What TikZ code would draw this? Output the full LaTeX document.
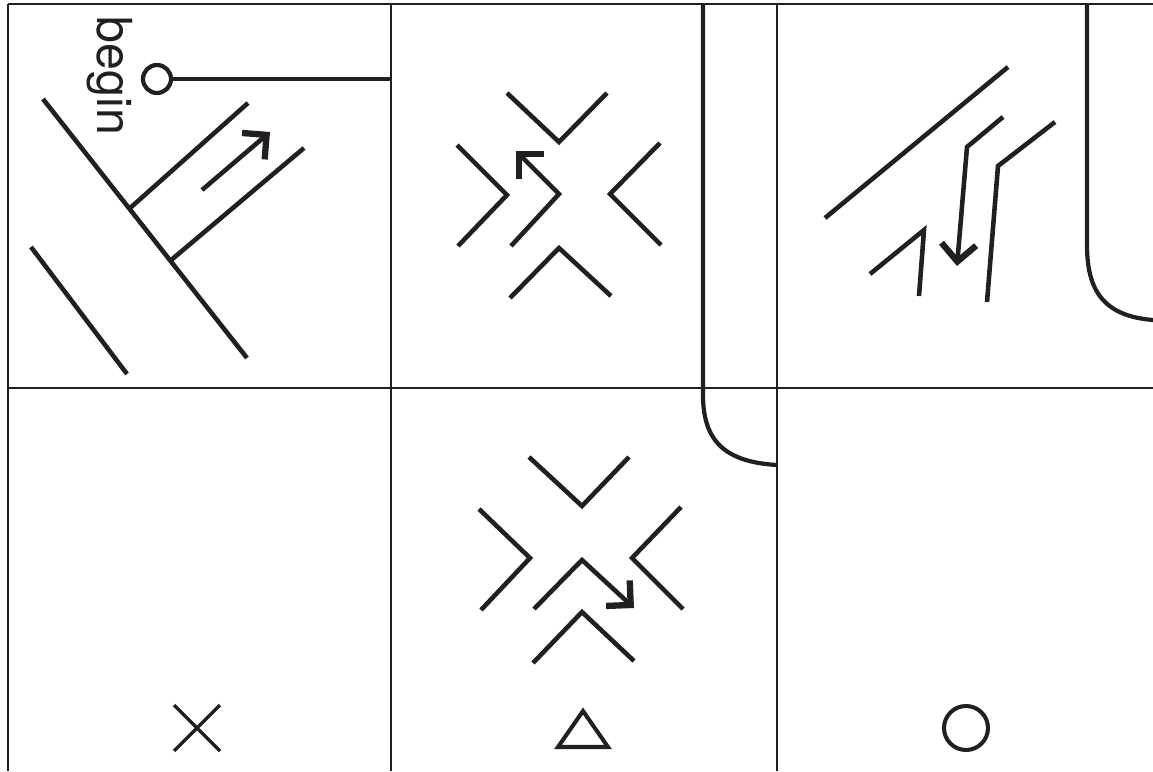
\documentclass[tikz,border=0pt]{standalone}
\usepackage{fontspec}
\setmainfont{TeX Gyre Heros}
\usepackage{tikz}
\usetikzlibrary{arrows.meta, shapes.geometric, shapes.misc, positioning}
\definecolor{mydark}{RGB}{35,31,32}
\tikzset{
  gridline/.style={line width=1.1pt,color=mydark},
  stroke/.style={line width=2.6pt,color=mydark},
  kerb/.style={line width=2.4pt,color=mydark},
  arrow/.style={stroke,-{Straight Barb[angle=90:14pt,line width=3.6pt,sharp]}},
  symb/.style={draw=mydark,inner sep=0pt,outer sep=0pt}
}

\begin{document}
\begin{tikzpicture}[x=0.02cm, y=-0.02cm]
  \useasboundingbox (0,0) rectangle (1153,771);
  % frame
  \draw[gridline] (8,4) -- (1153,4);
  \draw[gridline] (8,388) -- (1153,388);
  \draw[gridline] (8,4) -- (8,771);
  \draw[gridline] (391,4) -- (391,771);
  \draw[gridline] (777,4) -- (777,771);
  \coordinate (div1) at (391,4);

  % rounded kerbs
  \draw[kerb] (703,4) -- (703,395) .. controls (703,442) and (726,462) .. (777,465);
  \draw[kerb] (1087,5) -- (1087,245) .. controls (1087,290) and (1103,316) .. (1153,320);

  % cell 1
  \node[symb, circle, line width=2.4pt, minimum size=0.56cm] (start) at (157,79) {};
  \draw[stroke] (start.east) -- (start.east -| div1);
  \node[rotate=-90, inner sep=0pt, font=\fontsize{27.5}{30}\selectfont, text=mydark] (lbl) at (110,76) {begin};
  \draw[stroke] (43,99) -- (247,358);
  \draw[stroke] (31,247) -- (127,374);
  \draw[stroke] (129,209) -- (248,103);
  \draw[stroke] (170,261) -- (304,148);
  \draw[arrow] (202,190) -- (270,132);

  % cell 2
  \draw[stroke] (507,93) -- (559,142) -- (607,93);
  \draw[stroke] (457,145) -- (507,195) -- (458,246);
  \draw[stroke] (660,143) -- (610,194) -- (661,245);
  \draw[stroke] (510,298) -- (559,248) -- (611,296);
  \draw[arrow] (511,246) -- (559,194) -- (516,151);

  % cell 3
  \draw[stroke] (825,218) -- (1008,67);
  \draw[stroke] (870,274) -- (924,230) -- (919,296);
  \draw[stroke] (1055,122) -- (998,166) -- (987,302);
  \draw[arrow] (1003,117) -- (967,147) -- (957,266);

  % cell 5
  \draw[stroke] (529,457) -- (582,506) -- (629,457);
  \draw[stroke] (479,509) -- (530,558) -- (481,610);
  \draw[stroke] (681,507) -- (632,558) -- (683,609);
  \draw[stroke] (533,663) -- (582,612) -- (634,661);
  \draw[arrow] (534,609) -- (582,560) -- (634,608);

  % symbols
  \node[symb, cross out, line width=1.9pt, minimum size=0.92cm] (sym1) at (197,728) {};
  \draw[stroke, line width=2.3pt] (583,711) -- (558,747) -- (608,747) -- cycle;
  \node[symb, circle, line width=2.3pt, minimum size=0.88cm] (sym3) at (966,728) {};
\end{tikzpicture}
\end{document}
